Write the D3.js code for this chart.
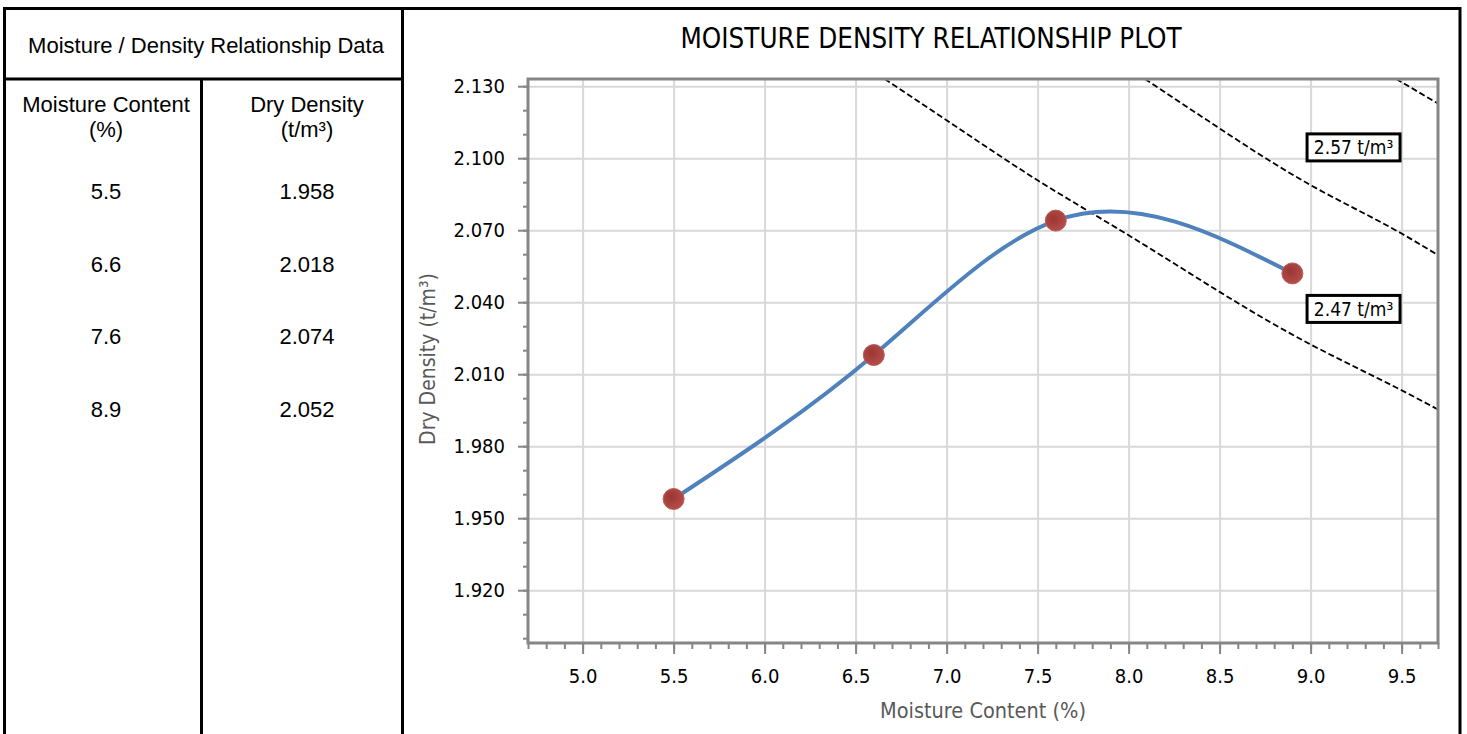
<!DOCTYPE html>
<html>
<head>
<meta charset="utf-8">
<script src="https://cdn.jsdelivr.net/npm/d3@7"></script>
<style>
  body { margin: 0; background: #fff; }
  .tbl text { font-family: "Liberation Sans", Arial, sans-serif; font-size: 22px; fill: #000; }
  .plot text { font-family: "DejaVu Sans Condensed", "DejaVu Sans", sans-serif; }
</style>
</head>
<body>
<div id="chart"></div>
<script>
// test points
const moisture = [5.5, 6.6, 7.6, 8.9];
const dryDensity = [1.958, 2.018, 2.074, 2.052];

const xTicks = [5.0, 5.5, 6.0, 6.5, 7.0, 7.5, 8.0, 8.5, 9.0, 9.5];
const yTicks = [1.920, 1.950, 1.980, 2.010, 2.040, 2.070, 2.100, 2.130];

// zero air voids lines as [moisture, density]
const zavTop = [[9.47, 2.133], [9.7, 2.1228]];
const zav257 = [[8.09, 2.133], [8.5, 2.1124], [9.0, 2.0888], [9.5, 2.0686], [9.7, 2.0596]];
const zav247 = [[6.66, 2.133], [7.0, 2.1158], [7.5, 2.0908], [8.0, 2.0679], [8.5, 2.0443], [9.0, 2.0224], [9.5, 2.0033], [9.7, 1.9953]];
const zavLabels = ['2.57 t/m³', '2.47 t/m³'];

const W = 1467, H = 734;
const plot = {left: 528, top: 79, right: 1438, bottom: 643};

// natural cubic spline in x (y as a function of x), emitted as beziers
function splineX(context) {
  let xs, ys;
  return {
    lineStart() { xs = []; ys = []; },
    point(px, py) { xs.push(+px); ys.push(+py); },
    lineEnd() {
      const n = xs.length;
      if (!n) return;
      context.moveTo(xs[0], ys[0]);
      if (n < 3) { for (let i = 1; i < n; i++) context.lineTo(xs[i], ys[i]); return; }
      const h = d3.range(n - 1).map(i => xs[i + 1] - xs[i]);
      const s = d3.range(n - 1).map(i => (ys[i + 1] - ys[i]) / h[i]);
      // tridiagonal for inner second derivatives
      const M = new Array(n).fill(0);
      const a = [], b = [], c = [], r = [];
      for (let i = 1; i < n - 1; i++) {
        a.push(h[i - 1]); b.push(2 * (h[i - 1] + h[i])); c.push(h[i]);
        r.push(6 * (s[i] - s[i - 1]));
      }
      const m = b.length;
      for (let i = 1; i < m; i++) {
        const w = a[i] / b[i - 1];
        b[i] -= w * c[i - 1];
        r[i] -= w * r[i - 1];
      }
      const sol = new Array(m);
      sol[m - 1] = r[m - 1] / b[m - 1];
      for (let i = m - 2; i >= 0; i--) sol[i] = (r[i] - c[i] * sol[i + 1]) / b[i];
      for (let i = 0; i < m; i++) M[i + 1] = sol[i];
      for (let i = 0; i < n - 1; i++) {
        const d0 = s[i] - h[i] * (2 * M[i] + M[i + 1]) / 6;
        const d1 = s[i] + h[i] * (M[i] + 2 * M[i + 1]) / 6;
        context.bezierCurveTo(
          xs[i] + h[i] / 3, ys[i] + d0 * h[i] / 3,
          xs[i + 1] - h[i] / 3, ys[i + 1] - d1 * h[i] / 3,
          xs[i + 1], ys[i + 1]);
      }
    },
    areaStart() {}, areaEnd() {}
  };
}

const svg = d3.select('#chart').append('svg')
  .attr('width', W)
  .attr('height', H);

// ---- left data table ----
const tbl = svg.append('g').attr('class', 'tbl');

tbl.append('text')
  .attr('x', 206).attr('y', 53)
  .attr('text-anchor', 'middle')
  .text('Moisture / Density Relationship Data');

[['Moisture Content', '(%)', 106], ['Dry Density', '(t/m³)', 307]].forEach(h => {
  tbl.append('text').attr('x', h[2]).attr('y', 112).attr('text-anchor', 'middle').text(h[0]);
  tbl.append('text').attr('x', h[2]).attr('y', 137).attr('text-anchor', 'middle').text(h[1]);
});

const rowY = i => 199 + i * 72.7;
tbl.selectAll('.mc')
  .data(moisture)
  .enter().append('text')
    .attr('class', 'mc')
    .attr('x', 106).attr('y', (d, i) => rowY(i))
    .attr('text-anchor', 'middle')
    .text(d3.format('.1f'));
tbl.selectAll('.dd')
  .data(dryDensity)
  .enter().append('text')
    .attr('class', 'dd')
    .attr('x', 307).attr('y', (d, i) => rowY(i))
    .attr('text-anchor', 'middle')
    .text(d3.format('.3f'));

// frame lines
const frame = svg.append('g')
  .attr('stroke', '#000')
  .attr('stroke-width', 3)
  .attr('fill', 'none');
frame.append('path').attr('d', 'M4.5,745 V8.5 H1460 V745');
frame.append('path').attr('d', 'M402.5,8.5 V745');
frame.append('path').attr('d', 'M4.5,79 H402.5');
frame.append('path').attr('d', 'M201.5,79 V745');

// ---- chart ----
const g = svg.append('g').attr('class', 'plot');

const x = d3.scaleLinear()
  .domain([4.7, 9.7])
  .range([plot.left, plot.right]);

const y = d3.scaleLinear()
  .domain([1.898, 2.133])
  .range([plot.bottom, plot.top]);

g.append('text')
  .attr('x', 931).attr('y', 48)
  .attr('text-anchor', 'middle')
  .style('font-size', '27.5px')
  .style('fill', '#000')
  .text('MOISTURE DENSITY RELATIONSHIP PLOT');

// gridlines
const grid = g.append('g');
grid.append('g')
  .attr('transform', `translate(0,${plot.bottom})`)
  .call(d3.axisBottom(x).tickValues(xTicks).tickSize(-(plot.bottom - plot.top)).tickFormat(''))
  .call(s => s.select('.domain').remove())
  .call(s => s.selectAll('line').attr('stroke', '#d9d9d9').attr('stroke-width', 2));
grid.append('g')
  .attr('transform', `translate(${plot.left},0)`)
  .call(d3.axisLeft(y).tickValues(yTicks).tickSize(-(plot.right - plot.left)).tickFormat(''))
  .call(s => s.select('.domain').remove())
  .call(s => s.selectAll('line').attr('stroke', '#d9d9d9').attr('stroke-width', 2));

// minor ticks
const xMinor = d3.range(47, 98).map(d => d / 10);
const yMinor = d3.range(190, 214).map(d => d / 100);

g.append('g')
  .attr('transform', `translate(0,${plot.bottom})`)
  .call(d3.axisBottom(x).tickValues(xMinor).tickSize(6).tickFormat(''))
  .call(s => s.select('.domain').remove())
  .call(s => s.selectAll('line').attr('stroke', '#868686').attr('stroke-width', 2));
g.append('g')
  .attr('transform', `translate(${plot.left},0)`)
  .call(d3.axisLeft(y).tickValues(yMinor).tickSize(5).tickFormat(''))
  .call(s => s.select('.domain').remove())
  .call(s => s.selectAll('line').attr('stroke', '#868686').attr('stroke-width', 2));

// major ticks + labels
g.append('g')
  .attr('transform', `translate(0,${plot.bottom})`)
  .call(d3.axisBottom(x).tickValues(xTicks).tickSize(11).tickPadding(15).tickFormat(d3.format('.1f')))
  .call(s => s.select('.domain').remove())
  .call(s => s.selectAll('line').attr('stroke', '#868686').attr('stroke-width', 2))
  .call(s => s.selectAll('text').style('font-size', '20px').attr('fill', '#000')
    .style('font-family', '"DejaVu Sans Condensed", "DejaVu Sans", sans-serif'));
g.append('g')
  .attr('transform', `translate(${plot.left},0)`)
  .call(d3.axisLeft(y).tickValues(yTicks).tickSize(10).tickPadding(13).tickFormat(d3.format('.3f')))
  .call(s => s.select('.domain').remove())
  .call(s => s.selectAll('line').attr('stroke', '#868686').attr('stroke-width', 2))
  .call(s => s.selectAll('text').style('font-size', '20px').attr('fill', '#000')
    .style('font-family', '"DejaVu Sans Condensed", "DejaVu Sans", sans-serif'));

// plot border
g.append('rect')
  .attr('x', plot.left).attr('y', plot.top)
  .attr('width', plot.right - plot.left)
  .attr('height', plot.bottom - plot.top)
  .attr('fill', 'none')
  .attr('stroke', '#868686')
  .attr('stroke-width', 3);

// axis titles
g.append('text')
  .attr('x', (plot.left + plot.right) / 2).attr('y', 718)
  .attr('text-anchor', 'middle')
  .style('font-size', '21.5px')
  .style('fill', '#595959')
  .text('Moisture Content (%)');
g.append('text')
  .attr('transform', `translate(435,${(plot.top + plot.bottom) / 2 - 2}) rotate(-90)`)
  .attr('text-anchor', 'middle')
  .style('font-size', '21px')
  .style('fill', '#595959')
  .text('Dry Density (t/m³)');

// clip
const defs = svg.append('defs');
defs.append('clipPath').attr('id', 'clip')
  .append('rect')
  .attr('x', plot.left + 1.5).attr('y', plot.top + 1.5)
  .attr('width', plot.right - plot.left - 3)
  .attr('height', plot.bottom - plot.top - 3);

const grad = defs.append('radialGradient').attr('id', 'dot').attr('cx', '40%').attr('cy', '40%').attr('r', '60%');
grad.append('stop').attr('offset', '0%').attr('stop-color', '#9a3633');
grad.append('stop').attr('offset', '100%').attr('stop-color', '#b44d49');

const inner = g.append('g').attr('clip-path', 'url(#clip)');

const zavLine = d3.line()
  .x(d => x(d[0]))
  .y(d => y(d[1]))
  .curve(splineX);

[zavTop, zav257, zav247].forEach(z => {
  inner.append('path')
    .datum(z)
    .attr('d', zavLine)
    .attr('fill', 'none')
    .attr('stroke', '#000')
    .attr('stroke-width', 1.8)
    .attr('stroke-dasharray', '6,3');
});

// fitted curve
const pts = moisture.map((m, i) => [m, dryDensity[i]]);
inner.append('path')
  .datum(pts)
  .attr('d', d3.line().x(d => x(d[0])).y(d => y(d[1])).curve(splineX))
  .attr('fill', 'none')
  .attr('stroke', '#4f81bd')
  .attr('stroke-width', 4);

inner.selectAll('.pt')
  .data(pts)
  .enter().append('circle')
    .attr('class', 'pt')
    .attr('cx', d => x(d[0]))
    .attr('cy', d => y(d[1]))
    .attr('r', 10.5)
    .attr('fill', 'url(#dot)')
    .attr('stroke', '#bd5b57')
    .attr('stroke-width', 1);

// labels for the void lines
const labelPos = [[9.236, 2.1045], [9.236, 2.0372]];
zavLabels.forEach((t, i) => {
  const lx = x(labelPos[i][0]), ly = y(labelPos[i][1]);
  g.append('rect')
    .attr('x', lx - 46.5).attr('y', ly - 13.5)
    .attr('width', 93).attr('height', 27)
    .attr('fill', '#fff')
    .attr('stroke', '#000')
    .attr('stroke-width', 3);
  g.append('text')
    .attr('x', lx).attr('y', ly)
    .attr('dy', '0.36em')
    .attr('text-anchor', 'middle')
    .style('font-size', '19px')
    .style('fill', '#000')
    .text(t);
});
</script>
</body>
</html>
